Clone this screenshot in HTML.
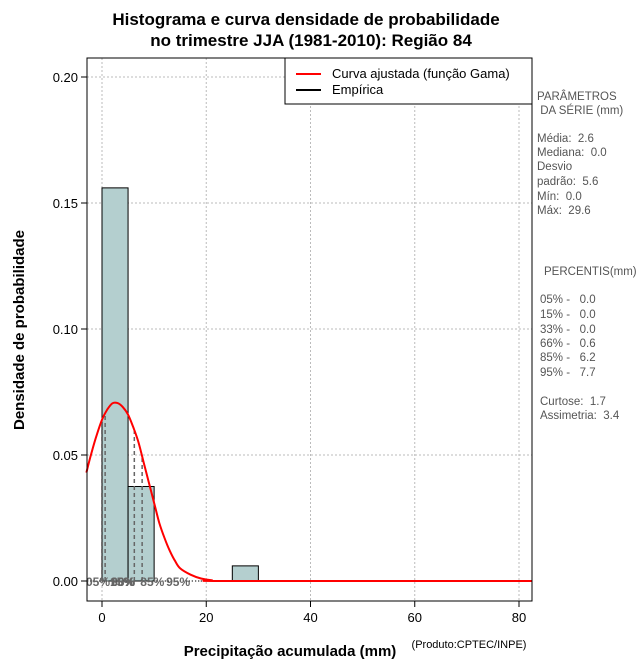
<!DOCTYPE html>
<html><head><meta charset="utf-8"><style>
body{margin:0;background:#fff;width:640px;height:660px;overflow:hidden}
svg text{font-family:"Liberation Sans",sans-serif;white-space:pre}
</style></head><body>
<svg id="c" width="640" height="660">
<text x="306" y="25" font-size="17" font-weight="bold" text-anchor="middle">Histograma e curva densidade de probabilidade</text>
<text x="311" y="46" font-size="17" font-weight="bold" text-anchor="middle">no trimestre JJA (1981-2010): Região 84</text>
<g id="grid"></g><g id="bars"></g><g id="pct"></g>
<path id="curve" fill="none" stroke="#f00" stroke-width="2"/>
<rect x="87" y="58" width="445" height="543" fill="none" stroke="#000"/>
<g id="axes"></g>
<text x="24" y="330" font-size="15" font-weight="bold" text-anchor="middle" transform="rotate(-90 24 330)">Densidade de probabilidade</text>
<text x="290" y="656" font-size="15" font-weight="bold" text-anchor="middle">Precipitação acumulada (mm)</text>
<text x="469" y="648" font-size="11" text-anchor="middle">(Produto:CPTEC/INPE)</text>
<g>
<rect x="285" y="58" width="247" height="46" fill="#fff" stroke="#000"/>
<line x1="296" y1="74" x2="321" y2="74" stroke="#f00" stroke-width="2"/>
<text x="332" y="78" font-size="13">Curva ajustada (função Gama)</text>
<line x1="296" y1="90" x2="321" y2="90" stroke="#000" stroke-width="2"/>
<text x="332" y="94" font-size="13">Empírica</text>
</g>
<g font-size="11.5" fill="#555">
<text x="537" y="100">PARÂMETROS</text><text x="537" y="114"> DA SÉRIE (mm)</text>
<text x="537" y="142">Média:  2.6</text><text x="537" y="156">Mediana:  0.0</text>
<text x="537" y="170">Desvio</text><text x="537" y="185">padrão:  5.6</text>
<text x="537" y="200">Mín:  0.0</text><text x="537" y="214">Máx:  29.6</text>
<text x="544" y="275">PERCENTIS(mm)</text>
<text x="540" y="303">05% -   0.0</text><text x="540" y="318">15% -   0.0</text>
<text x="540" y="333">33% -   0.0</text><text x="540" y="347">66% -   0.6</text>
<text x="540" y="361">85% -   6.2</text><text x="540" y="376">95% -   7.7</text>
<text x="540" y="405">Curtose:  1.7</text><text x="540" y="419">Assimetria:  3.4</text>
</g>
</svg>
<script>
const binStarts=[0,5,10,15,20,25,30];
const binDens=[0.156,0.0375,0,0,0,0.006,0];
const curveX=[-3,-2,-1,0,1,2,3,4,5,6,7,8,9,10,11,12,13,14,15,17,19,21,25,83];
const curveY=[0.043,0.051,0.058,0.064,0.068,0.0705,0.0706,0.069,0.066,0.061,0.055,0.047,0.039,0.031,0.023,0.017,0.012,0.008,0.005,0.0025,0.001,0.0003,0,0];
const pctLabels=["05%","15%","33%","66%","85%","95%"];
const pctVals=[0.0,0.0,0.0,0.6,6.2,7.7];
const xTicks=[0,20,40,60,80];
const yTicks=[0,0.05,0.10,0.15,0.20];
const binW=5;
const labelDx=[-4,20,21,18,18,36];
const X=v=>102+v*(519-102)/80, Y=v=>581-v*(581-77)/0.2;
const NS="http://www.w3.org/2000/svg";
function mk(p,t,a){const e=document.createElementNS(NS,t);for(const k in a)e.setAttribute(k,a[k]);document.getElementById(p).appendChild(e);return e;}
function dens(x){for(let i=1;i<curveX.length;i++){if(x<=curveX[i]){const t=(x-curveX[i-1])/(curveX[i]-curveX[i-1]);return curveY[i-1]+t*(curveY[i]-curveY[i-1]);}}return 0;}
xTicks.forEach(t=>{
 let e=mk('grid','line',{x1:X(t),x2:X(t),y1:58,y2:601,stroke:'#bbb','stroke-dasharray':'2,2'});
 
 e=mk('axes','line',{x1:X(t),x2:X(t),y1:601,y2:607,stroke:'#000'});
 
 e=mk('axes','text',{x:X(t),y:622,'font-size':13,'text-anchor':'middle'});e.textContent=t;
 
});
yTicks.forEach(t=>{
 let e=mk('grid','line',{x1:87,x2:532,y1:Y(t),y2:Y(t),stroke:'#bbb','stroke-dasharray':'2,2'});
 
 e=mk('axes','line',{x1:81,x2:87,y1:Y(t),y2:Y(t),stroke:'#000'});
 
 e=mk('axes','text',{x:78,y:Y(t)+5,'font-size':13,'text-anchor':'end'});e.textContent=t.toFixed(2);
 
});
let z=mk('grid','line',{x1:87,x2:532,y1:Y(0),y2:Y(0),stroke:'#000','stroke-dasharray':'1,2'});

binStarts.forEach((b,i)=>{ if(binDens[i]<=0)return;
 const e=mk('bars','rect',{x:X(b),y:Y(binDens[i]),width:X(b+binW)-X(b),height:Y(0)-Y(binDens[i]),fill:'#b4cfcf',stroke:'#000'});
 
});
pctVals.forEach((v,i)=>{
 let e=mk('pct','line',{x1:X(v),x2:X(v),y1:Y(0),y2:Y(dens(v)),stroke:'#666','stroke-width':1.5,'stroke-dasharray':'4,3'});
 
 e=mk('pct','text',{x:X(v)+labelDx[i],y:Y(0)+5,'font-size':12,'font-weight':'bold',fill:'#666','text-anchor':'middle'});
 e.textContent=pctLabels[i];
 
});
const P=curveX.map((x,i)=>[Math.min(X(x),532),Y(curveY[i])]);
let d='M'+P[0][0].toFixed(1)+','+P[0][1].toFixed(1);
for(let i=0;i<P.length-1;i++){
 const p0=P[Math.max(i-1,0)],p1=P[i],p2=P[i+1],p3=P[Math.min(i+2,P.length-1)];
 const c1=[p1[0]+(p2[0]-p0[0])/6,p1[1]+(p2[1]-p0[1])/6],c2=[p2[0]-(p3[0]-p1[0])/6,p2[1]-(p3[1]-p1[1])/6];
 c1[1]=Math.min(c1[1],Y(0));c2[1]=Math.min(c2[1],Y(0));
 d+='C'+c1.map(v=>v.toFixed(1))+' '+c2.map(v=>v.toFixed(1))+' '+p2.map(v=>v.toFixed(1));
}
document.getElementById('curve').setAttribute('d',d);
</script>
</body></html>
